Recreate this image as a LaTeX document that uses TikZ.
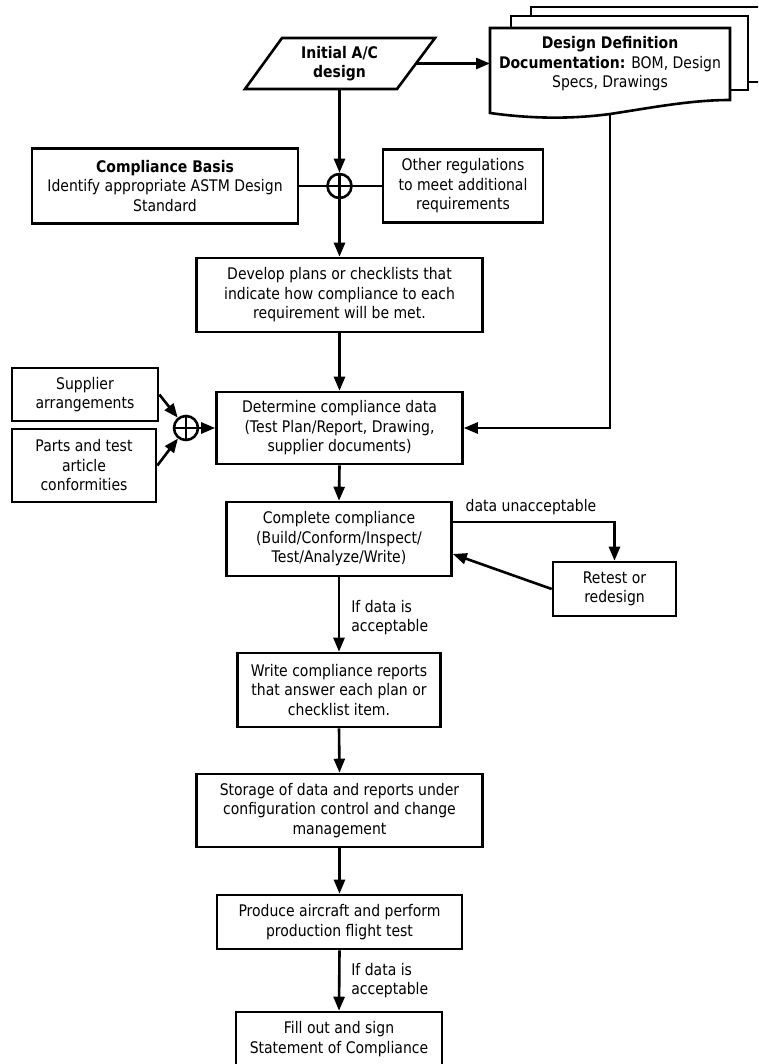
\documentclass[tikz,border=0pt]{standalone}
\usepackage{fontspec}
\setmainfont{DejaVu Sans}[FakeStretch=0.875]
\usetikzlibrary{arrows.meta,calc}
\begin{document}
\begin{tikzpicture}[x=1pt,y=-1pt,
  line width=2.6pt,
  txt/.style={font=\fontsize{16}{19.5}\selectfont},
  box/.style={draw, fill=white, inner sep=0pt, align=center, txt},
  lbl/.style={inner sep=0pt, align=left, txt},
  arr/.style={-{Triangle[length=14pt,width=11pt]}},
  oplus/.style={circle, draw, fill=white, minimum size=24pt, inner sep=0pt},
]
\path[use as bounding box] (0,0) rectangle (758,1064);
\clip (0,0) rectangle (758,1064);

% stacked documents
\draw[fill=white] (531,7) rectangle (790,82);
\draw[fill=white] (511,16) rectangle (748,90);
\draw[fill=white] (490,113) -- (490,28) -- (730,28) -- (730,100)
   .. controls (690,100) and (650,108) .. (610,114)
   .. controls (580,118) and (540,120) .. (490,113) -- cycle;
\node[txt, align=center, inner sep=0pt] (doc) at (610,64)
  {\textbf{Design Definition}\\\textbf{Documentation:} BOM, Design\\Specs, Drawings};
\coordinate (docL) at (490,63.5);
\coordinate (docB) at (610,114);

% initial design parallelogram
\draw[fill=white] (282,38) -- (435,38) -- (397,89) -- (245,89) -- cycle;
\node[txt, align=center, inner sep=0pt, minimum height=51pt, font=\fontsize{16}{19.5}\selectfont\bfseries] (init) at (339.5,63.5) {Initial A/C\\design};
\coordinate (initR) at (416,63.5);

% boxes
\node[box, minimum width=266pt, minimum height=75pt] (basis) at (165,186)
  {\textbf{Compliance Basis}\\Identify appropriate ASTM Design\\Standard};
\node[box, minimum width=160pt, minimum height=73pt] (other) at (463,186)
  {Other regulations\\to meet additional\\requirements};
\node[oplus] (c1) at (339.5,186) {};
\draw (c1.north) -- (c1.south) (c1.west) -- (c1.east);

\node[box, minimum width=286pt, minimum height=74pt] (dev) at (339.5,295)
  {Develop plans or checklists that\\indicate how compliance to each\\requirement will be met.};

\node[box, minimum width=146pt, minimum height=53pt] (sup) at (85,394.5)
  {Supplier\\arrangements};
\node[box, minimum width=144pt, minimum height=73pt] (parts) at (84,465.5)
  {Parts and test\\article\\conformities};
\node[oplus] (c2) at (186,428) {};
\draw (c2.north) -- (c2.south) (c2.west) -- (c2.east);

\node[box, minimum width=246pt, minimum height=72pt] (det) at (339.5,428)
  {Determine compliance data\\(Test Plan/Report, Drawing,\\supplier documents)};

\node[box, minimum width=225pt, minimum height=74pt] (comp) at (339,539)
  {Complete compliance\\(Build/Conform/Inspect/\\Test/Analyze/Write)};
\node[box, minimum width=123pt, minimum height=54pt] (ret) at (614.5,589)
  {Retest or\\redesign};

\node[box, minimum width=203pt, minimum height=74pt] (write) at (339,690)
  {Write compliance reports\\that answer each plan or\\checklist item.};
\node[box, minimum width=286pt, minimum height=73pt] (stor) at (339.5,810.5)
  {Storage of data and reports under\\configuration control and change\\management};
\node[box, minimum width=245pt, minimum height=54pt] (prod) at (339.5,922)
  {Produce aircraft and perform\\production flight test};
\node[box, minimum width=206pt, minimum height=54pt] (fill) at (339,1039)
  {Fill out and sign\\Statement of Compliance};

% labels
\node[lbl] (lunacc) at (531,507) {data unacceptable};
\node[lbl, anchor=west] (lacc1) at (350,617.5) {If data is\\acceptable};
\node[lbl, anchor=west] (lacc2) at (350,980.5) {If data is\\acceptable};

% connectors
\draw[arr] (initR) -- (docL);
\draw[arr] (init.south) -- (c1.north);
\draw (basis.east) -- (c1.west);
\draw (other.west) -- (c1.east);
\draw[arr] (c1.south) -- (dev.north);
\draw[arr] (dev.south) -- (det.north);
\draw[arr] (docB) |- (det.east);
\draw[arr] (sup.east) -- (c2);
\draw[arr] (parts.east) -- (c2);
\draw[arr] (c2.east) -- (det.west);
\draw[arr] (det.south) -- (comp.north);
\draw[arr] ([yshift=17pt]comp.east) -| (ret.north);
\draw[arr] (ret.west) -- ([yshift=-15pt]comp.east);
\draw[arr] (comp.south) -- (write.north);
\draw[arr] (write.south) -- (stor.north);
\draw[arr] (stor.south) -- (prod.north);
\draw[arr] (prod.south) -- (fill.north);
\end{tikzpicture}
\end{document}
